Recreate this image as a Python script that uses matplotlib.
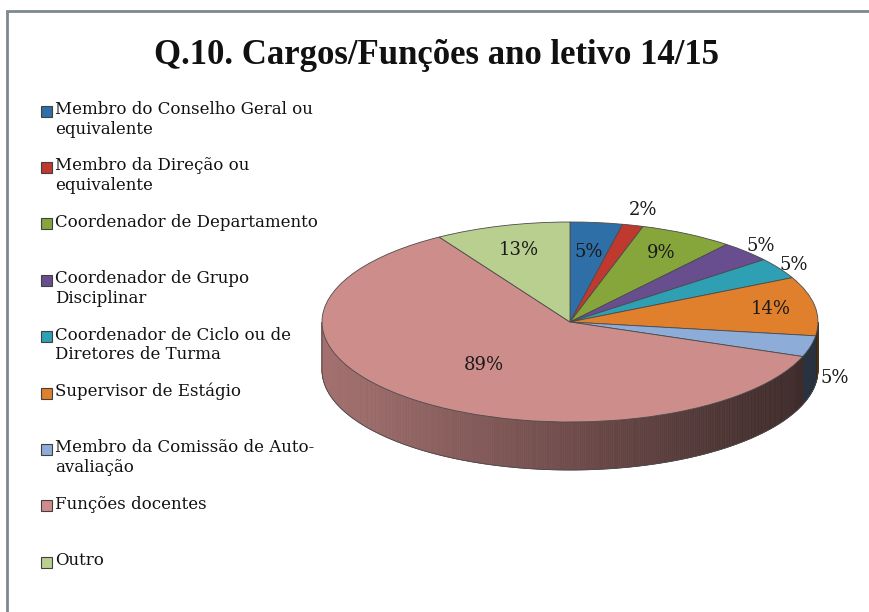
import numpy as np
import matplotlib
matplotlib.use("Agg")
import matplotlib.pyplot as plt
from matplotlib.patches import Polygon, Rectangle
from matplotlib.colors import to_rgb

# Data
title = "Q.10. Cargos/Funções ano letivo 14/15"
categories = [
    "Membro do Conselho Geral ou\nequivalente",
    "Membro da Direção ou\nequivalente",
    "Coordenador de Departamento",
    "Coordenador de Grupo\nDisciplinar",
    "Coordenador de Ciclo ou de\nDiretores de Turma",
    "Supervisor de Estágio",
    "Membro da Comissão de Auto-\navaliação",
    "Funções docentes",
    "Outro",
]
percentages = [5, 2, 9, 5, 5, 14, 5, 89, 13]

colors = ["#2f6fa8", "#c0392f", "#86a63c", "#684e8f", "#2f9fb4",
          "#e0802c", "#8eacd8", "#cd8d8b", "#b9cf90"]
label_radius = [0.70, 1.16, 0.78, 1.08, 1.07, 0.82, 1.10, 0.55, 0.75]

W, H = 869, 612
cx, cy = 570, 322          # pie centre in pixels
rx, ry = 248, 100          # pixels per data unit
depth = 0.48               # side height in data units (y)

fig = plt.figure(figsize=(W / 100, H / 100), dpi=100)
ax = fig.add_axes([0, 0, 1, 1])

wedges, _ = ax.pie(percentages, colors=colors, startangle=90, counterclock=False,
                   wedgeprops=dict(edgecolor="#4a4a4a", linewidth=0.6))
for w in wedges:
    w.set_zorder(3)

# map data units straight onto pixels, which flattens the pie into an ellipse
ax.set_aspect("auto")
ax.set_xlim(-cx / rx, (W - cx) / rx)
ax.set_ylim(-(H - cy) / ry, cy / ry)
ax.axis("off")


def shade(color, t):
    f = 0.80 - 0.52 * (np.cos(np.radians(t)) + 1) / 2
    return tuple(c * f for c in to_rgb(color))


# side of the cylinder, front half only
for w, col in zip(wedges, colors):
    t1, t2 = w.theta1, w.theta2
    for lo, hi in [(-180, 0), (180, 360)]:
        a, b = max(t1, lo), min(t2, hi)
        if a >= b:
            continue
        steps = np.linspace(a, b, max(2, int((b - a) / 0.5) + 1))
        for s0, s1 in zip(steps[:-1], steps[1:]):
            r0, r1 = np.radians(s0), np.radians(s1)
            pts = [(np.cos(r0), np.sin(r0)), (np.cos(r1), np.sin(r1)),
                   (np.cos(r1), np.sin(r1) - depth), (np.cos(r0), np.sin(r0) - depth)]
            c = shade(col, (s0 + s1) / 2)
            ax.add_patch(Polygon(pts, closed=True, facecolor=c, edgecolor=c,
                                 linewidth=0.5, zorder=1))

tt = np.radians(np.linspace(180, 360, 200))
outline = list(zip(np.cos(tt), np.sin(tt) - depth))
outline = [(-1, 0)] + outline + [(1, 0)]
ax.add_patch(Polygon(outline, closed=False, fill=False, edgecolor="#4a4a4a",
                     linewidth=0.6, zorder=2))

# percentage labels
for w, p, r in zip(wedges, percentages, label_radius):
    mid = np.radians((w.theta1 + w.theta2) / 2)
    x, y = r * np.cos(mid), r * np.sin(mid)
    if r > 1 and np.sin(mid) < 0:
        y -= depth * 0.6
    ax.text(x, y, f"{p}%", ha="center", va="center", fontsize=13,
            family="DejaVu Serif", color="#1a1a1a", zorder=5)


def fx(px):
    return px / W


def fy(py):
    return 1 - py / H


# frame
fig.patches.append(Rectangle((fx(7), fy(H + 5)), fx(W + 10), fy(11) - fy(H + 5),
                             transform=fig.transFigure, fill=False,
                             edgecolor="#7d8a8c", linewidth=2))

fig.text(fx(436), fy(56), title, ha="center", va="center", fontsize=25,
         fontweight="bold", family="Liberation Serif", color="#111111")

# legend
for i, (lab, col) in enumerate(zip(categories, colors)):
    yc = 111 + 56.4 * i
    fig.patches.append(Rectangle((fx(41), fy(yc + 5.5)), fx(11), fy(yc - 5.5) - fy(yc + 5.5),
                                 transform=fig.transFigure, facecolor=col,
                                 edgecolor="#404040", linewidth=0.8))
    fig.text(fx(55), fy(yc - 10), lab, ha="left", va="top", fontsize=12,
             family="DejaVu Serif", color="#111111", linespacing=1.2)

fig.savefig("out.png", dpi=100)
